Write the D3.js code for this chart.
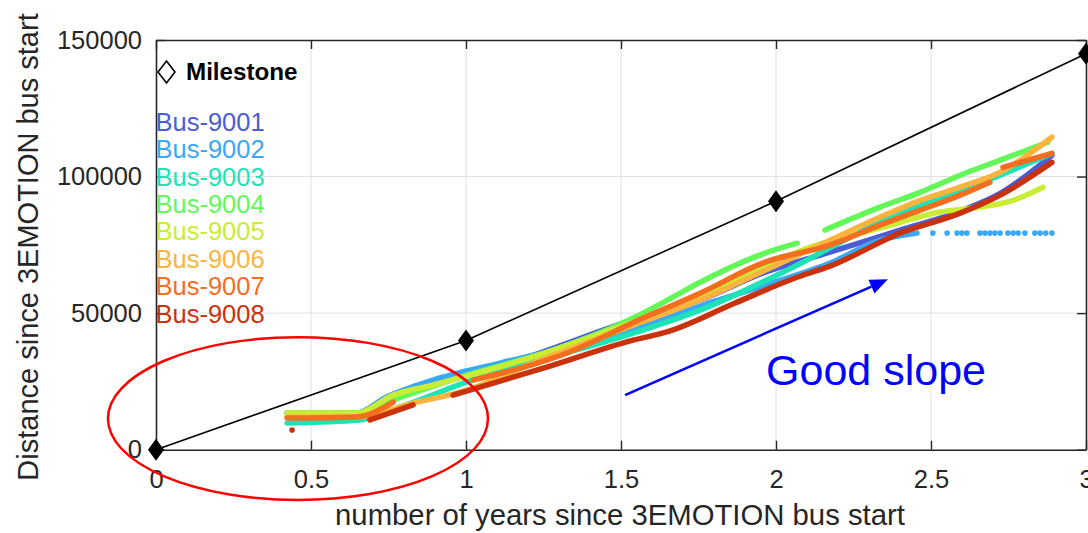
<!DOCTYPE html>
<html><head><meta charset="utf-8">
<script src="https://cdn.jsdelivr.net/npm/d3@7"></script>
<style>
html,body{margin:0;padding:0;background:#fff;overflow:hidden}
svg{display:block}
text{font-family:"Liberation Sans",Arial,Helvetica,sans-serif}
</style></head><body>
<svg id="chart" width="1088" height="533"></svg>
<script>
// Axis ticks
const xTicks = [0, 0.5, 1, 1.5, 2, 2.5, 3];
const xTickLabels = ["0", "0.5", "1", "1.5", "2", "2.5", "3"];
const yTicks = [0, 50000, 100000, 150000];
const yTickLabels = ["0", "50000", "100000", "150000"];

// Buses and their colours
const busNames = ["Bus-9001", "Bus-9002", "Bus-9003", "Bus-9004", "Bus-9005", "Bus-9006", "Bus-9007", "Bus-9008"];
const busColors = ["#4b5cd6", "#39a9f7", "#1ee3b6", "#63f75a", "#c8ed34", "#fdb43e", "#f56d1f", "#c9320a"];

// Cumulative distance per bus: [years since start, distance]; null = gap in logging
const bus9001 = [[0.423,13400],[0.648,13400],[0.745,19300],[1.003,27300],[1.174,33000],[1.539,47500],[1.755,54800],[1.965,65000],[2.174,72300],[2.400,80400],[2.594,87300],[2.723,93800],[2.890,107800]];
const bus9002 = [[0.423,13400],[0.648,13400],[0.745,19300],[0.894,25500],[1.110,31700],[1.539,43800],[1.755,52600],[1.965,60200],[2.174,68300],[2.335,76700],[2.455,79300]];
const bus9002Idle = [[2.506,79300],[2.552,79300],[2.584,79300],[2.600,79300],[2.616,79300],[2.658,79300],[2.674,79300],[2.690,79300],[2.706,79300],[2.723,79300],[2.748,79300],[2.765,79300],[2.781,79300],[2.803,79300],[2.835,79300],[2.852,79300],[2.870,79300],[2.890,79300]];
const bus9003 = [[0.423,9800],[0.658,10900],[0.787,15600],[1.003,24800],[1.539,42700],[1.755,51100],[2.023,65000],[2.335,83200],[2.723,100500],[2.890,108500]];
const bus9004 = [[0.423,13400],[0.648,13400],[0.765,18200],[1.003,27300],[1.261,35700],[1.539,48200],[1.668,55900],[1.755,61300],[1.965,72000],[2.068,75600],null,[2.158,80400],[2.335,88800],[2.465,94200],[2.594,100500],[2.723,106000],[2.877,112600]];
const bus9005 = [[0.423,13400],[0.648,13400],[0.765,20000],[0.894,23700],[1.174,32500],[1.539,46700],[1.755,55900],[2.110,74100],[2.335,81100],[2.529,87000],[2.658,88800],[2.765,91300],[2.861,96100]];
const bus9006 = [[0.423,12000],[0.648,12000],[0.842,17400],[1.003,21800],[1.216,31700],[1.539,45600],[1.755,54800],[1.965,65700],[2.174,76700],[2.335,85100],[2.465,91300],[2.594,96100],[2.723,101600],[2.890,114400]];
const bus9007 = [[0.423,11600],[0.648,12000],[0.765,17400],null,[1.023,25500],[1.326,35400],[1.571,48200],[1.755,57300],[1.965,68700],[2.174,74900],[2.335,82200],[2.465,87700],[2.594,93200],[2.690,97900],null,[2.732,103400],[2.890,108500]];
const bus9008 = [[0.439,7200],null,[0.690,10900],[0.829,16400],null,[0.958,20000],[1.045,22900],[1.271,30600],[1.539,40100],[1.648,43100],[1.868,53700],[2.077,63500],[2.174,67200],[2.400,79300],[2.594,86600],[2.723,93200],[2.890,105200]];
const busSeries = [bus9001, bus9002, bus9003, bus9004, bus9005, bus9006, bus9007, bus9008];

// Planned milestone distances
const milestones = [[0, 0], [1, 40000], [2, 91000], [3, 145000]];

// Annotations (in data units)
const arrowFrom = [1.513, 20000];
const arrowTo = [2.361, 62400];
const noteText = "Good slope";
const notePos = [1.968, 23700];
const ringCenter = [0.458, 11400];
const ringRadii = [0.613, 29800];

const svg = d3.select("#chart");
const L = 156, R = 1086, T = 40, B = 449.7;
const x = d3.scaleLinear().domain([0, 3]).range([L, R]);
const y = d3.scaleLinear().domain([0, 150000]).range([B, T]);
const ink = "#262626";

// Grid
const grid = svg.append("g").attr("stroke", "#dfdfdf").attr("stroke-width", 1);
grid.selectAll("line.gx").data(xTicks.slice(1, -1)).join("line")
  .attr("x1", d => x(d)).attr("x2", d => x(d)).attr("y1", T).attr("y2", B);
grid.selectAll("line.gy").data(yTicks.slice(1, -1)).join("line")
  .attr("x1", L).attr("x2", R).attr("y1", d => y(d)).attr("y2", d => y(d));

// Axes (ticks pointing inward, box on)
function styleAxis(g) {
  g.selectAll("path.domain").attr("stroke", ink).attr("stroke-width", 1.6);
  g.selectAll(".tick line").attr("stroke", ink).attr("stroke-width", 1.4);
  g.selectAll(".tick text").attr("fill", ink).attr("font-size", 25.5)
    .attr("font-family", '"Liberation Sans", Arial, sans-serif');
}
svg.append("g").attr("transform", `translate(0,${B})`)
  .call(d3.axisBottom(x).tickValues(xTicks).tickFormat((d, i) => xTickLabels[i])
    .tickSizeInner(-9).tickSizeOuter(0).tickPadding(20))
  .call(styleAxis);
svg.append("g").attr("transform", `translate(0,${T})`)
  .call(d3.axisTop(x).tickValues(xTicks).tickFormat("").tickSizeInner(-9).tickSizeOuter(0))
  .call(styleAxis);
svg.append("g").attr("transform", `translate(${L},0)`)
  .call(d3.axisLeft(y).tickValues(yTicks).tickFormat((d, i) => yTickLabels[i])
    .tickSizeInner(-9).tickSizeOuter(0).tickPadding(14))
  .call(styleAxis);
svg.append("g").attr("transform", `translate(${R},0)`)
  .call(d3.axisRight(y).tickValues(yTicks).tickFormat("").tickSizeInner(-9).tickSizeOuter(0))
  .call(styleAxis);

// Axis titles
svg.append("text").attr("x", (L + R) / 2 - 1).attr("y", 525).attr("text-anchor", "middle")
  .attr("font-size", 29.3).attr("fill", ink).text("number of years since 3EMOTION bus start");
svg.append("text").attr("transform", "translate(38,247) rotate(-90)").attr("text-anchor", "middle")
  .attr("font-size", 29).attr("fill", ink).text("Distance since 3EMOTION bus start");

// Bus traces
const line = d3.line().defined(d => d !== null).curve(d3.curveMonotoneX).x(d => x(d[0])).y(d => y(d[1]));
const traces = svg.append("g");
busSeries.forEach((s, i) => {
  const g = traces.append("g");
  // split into logged runs
  const runs = [];
  let cur = [];
  s.forEach(p => { if (p === null) { if (cur.length) runs.push(cur); cur = []; } else cur.push(p); });
  if (cur.length) runs.push(cur);
  runs.forEach(r => {
    if (r.length > 1) {
      g.append("path").attr("d", line(r)).attr("fill", "none").attr("stroke", busColors[i])
        .attr("stroke-width", 5.5).attr("stroke-linecap", "round").attr("stroke-linejoin", "round");
    } else {
      g.append("circle").attr("cx", x(r[0][0])).attr("cy", y(r[0][1])).attr("r", 2.8).attr("fill", busColors[i]);
    }
  });
  if (i === 1) {
    g.selectAll("circle.idle").data(bus9002Idle).join("circle")
      .attr("cx", d => x(d[0])).attr("cy", d => y(d[1])).attr("r", 2.8).attr("fill", busColors[i]);
  }
});

// Milestone line and markers
svg.append("path").attr("d", d3.line().x(d => x(d[0])).y(d => y(d[1]))(milestones))
  .attr("fill", "none").attr("stroke", "#000").attr("stroke-width", 1.6);
const diamond = (cx, cy, w, h) => `M${cx},${cy - h / 2}L${cx + w / 2},${cy}L${cx},${cy + h / 2}L${cx - w / 2},${cy}Z`;
svg.selectAll("path.ms").data(milestones).join("path")
  .attr("d", d => diamond(x(d[0]), y(d[1]), 16, 22)).attr("fill", "#000");

// Legend
svg.append("path").attr("d", diamond(166.5, 72, 17, 22)).attr("fill", "none").attr("stroke", "#000").attr("stroke-width", 1.6);
svg.append("text").attr("x", 186).attr("y", 80).attr("font-size", 24.2).attr("font-weight", "bold")
  .attr("fill", "#000").text("Milestone");
svg.selectAll("text.bus").data(busNames).join("text")
  .attr("x", 155.5).attr("y", (d, i) => 130.7 + i * 27.4).attr("font-size", 25.5)
  .attr("fill", (d, i) => busColors[i]).text(d => d);

// Annotations
svg.append("ellipse").attr("cx", x(ringCenter[0])).attr("cy", y(ringCenter[1]))
  .attr("rx", x(ringRadii[0]) - x(0)).attr("ry", y(0) - y(ringRadii[1]))
  .attr("fill", "none").attr("stroke", "#ff0000").attr("stroke-width", 2.5);

const ax0 = x(arrowFrom[0]), ay0 = y(arrowFrom[1]), ax1 = x(arrowTo[0]), ay1 = y(arrowTo[1]);
const ang = Math.atan2(ay1 - ay0, ax1 - ax0), hl = 18, hw = 7.5;
const bx = ax1 - hl * Math.cos(ang), by = ay1 - hl * Math.sin(ang);
svg.append("line").attr("x1", ax0).attr("y1", ay0).attr("x2", bx).attr("y2", by)
  .attr("stroke", "#0000ff").attr("stroke-width", 2.5);
svg.append("path").attr("d", `M${ax1},${ay1}L${bx + hw * Math.sin(ang)},${by - hw * Math.cos(ang)}L${bx - hw * Math.sin(ang)},${by + hw * Math.cos(ang)}Z`)
  .attr("fill", "#0000ff");
svg.append("text").attr("x", x(notePos[0])).attr("y", y(notePos[1]))
  .attr("font-family", "Lato, 'Open Sans', sans-serif").attr("font-size", 43)
  .attr("fill", "#0000ff").text(noteText);
</script>
</body></html>
